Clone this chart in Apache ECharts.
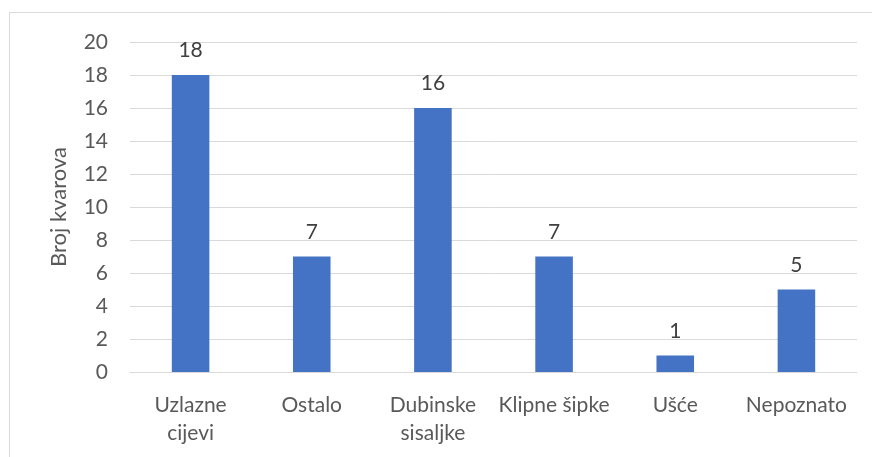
<!DOCTYPE html>
<html>
<head>
<meta charset="utf-8">
<script src="https://cdn.jsdelivr.net/npm/echarts@6/dist/echarts.min.js"></script>
<style>
  html, body { margin: 0; padding: 0; background: #fff; }
  #chart { width: 872px; height: 457px; }
</style>
</head>
<body>
<div id="chart"></div>
<script>
// kategorije i broj kvarova
const categories = ['Uzlazne\ncijevi', 'Ostalo', 'Dubinske\nsisaljke', 'Klipne šipke', 'Ušće', 'Nepoznato'];
const kvarovi = [18, 7, 16, 7, 1, 5];

const font = 'Lato, "Open Sans", sans-serif';
const chart = echarts.init(document.getElementById('chart'));

const option = {
  animation: false,
  backgroundColor: '#fff',
  graphic: [{
    type: 'rect',
    shape: {x: 9.5, y: 12.5, width: 900, height: 500},
    style: {fill: 'none', stroke: '#d9d9d9', lineWidth: 1},
    silent: true
  }],
  grid: {left: 130, right: 15, top: 42, bottom: 85},
  xAxis: {
    type: 'category',
    data: categories,
    axisLine: {lineStyle: {color: '#d9d9d9', width: 1}},
    axisTick: {show: false},
    axisLabel: {
      color: '#595959',
      fontFamily: font,
      fontSize: 21,
      margin: 19,
      lineHeight: 28,
      interval: 0
    }
  },
  yAxis: {
    type: 'value',
    min: 0,
    max: 20,
    interval: 2,
    name: 'Broj kvarova',
    nameLocation: 'middle',
    nameGap: 60,
    nameTextStyle: {color: '#595959', fontFamily: font, fontSize: 22},
    axisLine: {show: false},
    axisTick: {show: false},
    splitLine: {lineStyle: {color: '#d9d9d9', width: 1}},
    axisLabel: {color: '#595959', fontFamily: font, fontSize: 21, margin: 22}
  },
  series: [{
    type: 'bar',
    data: kvarovi,
    barWidth: '31%',
    itemStyle: {color: '#4472C4'},
    label: {
      show: true,
      position: 'top',
      distance: 14,
      color: '#404040',
      fontFamily: font,
      fontSize: 21
    }
  }]
};

chart.setOption(option);
</script>
</body>
</html>
